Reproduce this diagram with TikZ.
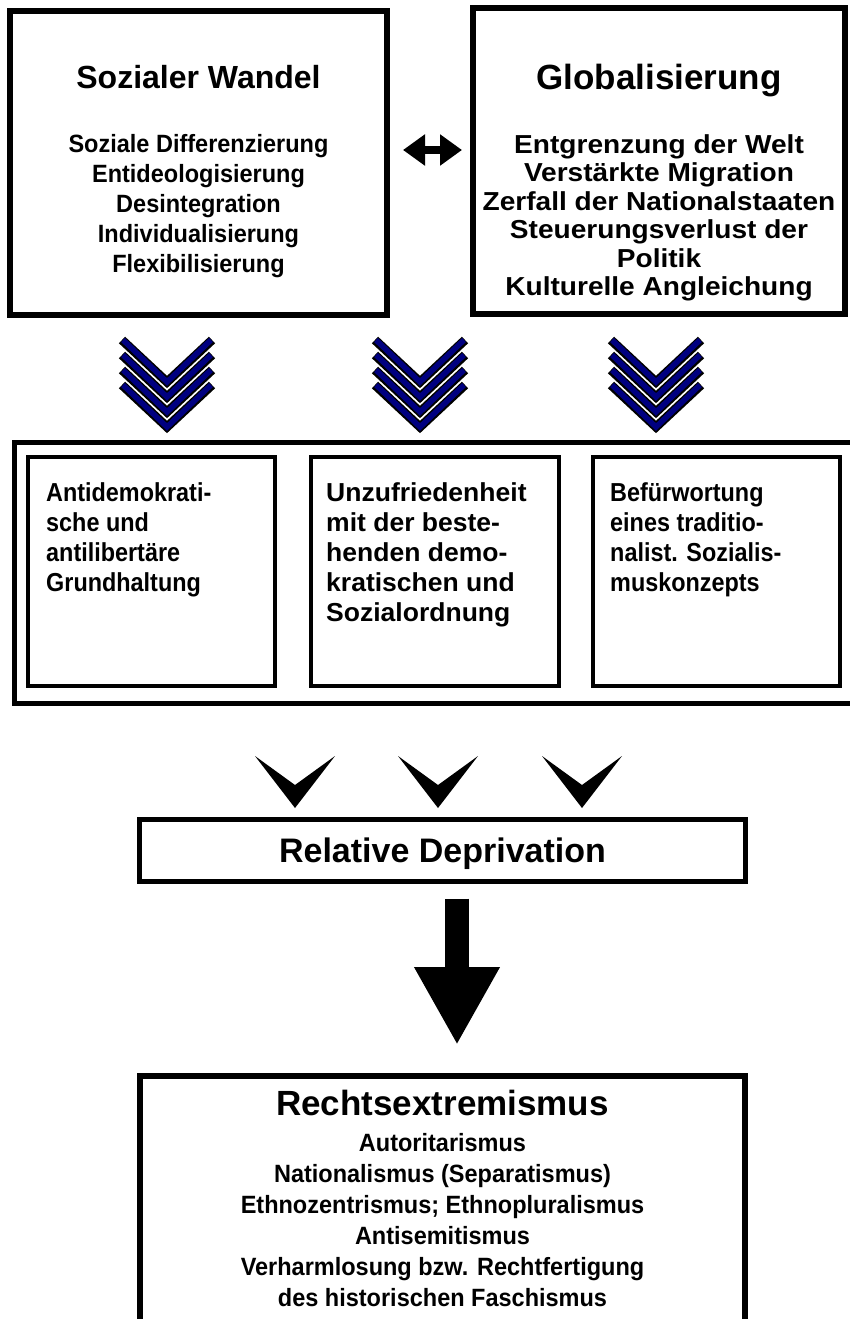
\documentclass[tikz,border=0pt]{standalone}
\usepackage{fontspec}
\setmainfont{Liberation Sans}
\newfontfamily\narrowsans[FakeStretch=0.9]{Liberation Sans}
\newfontfamily\leftsans[FakeStretch=0.94]{Liberation Sans}
\newfontfamily\widesans[FakeStretch=1.02]{Liberation Sans}
\newfontfamily\rightsans[FakeStretch=1.08]{Liberation Sans}
\usetikzlibrary{arrows.meta, positioning}
\definecolor{chevblue}{RGB}{0,0,128}

\tikzset{
  bigbox/.style={rectangle, draw, line width=6pt, inner sep=0pt},
  subbox/.style={rectangle, draw, line width=4pt, inner sep=0pt, minimum width=247pt, minimum height=229pt},
  titletext/.style={font=\fontsize{32}{36}\selectfont\bfseries, inner sep=0pt, anchor=base},
  listtext/.style={font=\fontsize{25}{30}\selectfont\bfseries, align=center, inner sep=0pt, anchor=north},
  subtext/.style={font=\fontsize{26}{30}\selectfont\bfseries, align=left, inner sep=0pt, anchor=north west},
  dblarrow/.style={line width=8pt, {Triangle[length=22pt,width=30pt]}-{Triangle[length=22pt,width=30pt]}},
  downarrow/.style={line width=24pt, -{Triangle[length=78pt,width=80pt]}},
}

\begin{document}
\begin{tikzpicture}[x=1pt, y=-1pt]
    \useasboundingbox (0,0) rectangle (850,1319);
    \clip (0,0) rectangle (850,1319);

    % top boxes
    \node (wandel) [bigbox, minimum width=377pt, minimum height=304pt] at (198.5,163) {};
    \node (global) [bigbox, minimum width=372pt, minimum height=306pt] at (659,161) {};
    \node (wandeltitle) [titletext] at (198.5,89) {Sozialer Wandel};
    \node (wandellist) [listtext] at (198.5,134) {\leftsans Soziale Differenzierung\\\leftsans Entideologisierung\\\leftsans Desintegration\\\leftsans Individualisierung\\\leftsans Flexibilisierung};
    \node (globaltitle) [titletext, font=\fontsize{35}{40}\selectfont\bfseries] at (659,90) {Globalisierung};
    \node (globallist) [listtext, font=\fontsize{26}{28.5}\selectfont\bfseries] at (659,134) {\rightsans Entgrenzung der Welt\\\rightsans Verstärkte Migration\\\rightsans Zerfall der Nationalstaaten\\\rightsans Steuerungsverlust der\\\rightsans Politik\\\rightsans Kulturelle Angleichung};

    \draw[dblarrow, shorten <=13pt, shorten >=8pt] ([yshift=13pt]wandel.east) -- ([yshift=11pt]global.west);

    % blue chevrons
    \foreach \cx in {167,420,656} {
        \foreach \k in {0,...,3} {
            \draw[line width=9pt, black] ({\cx-45},{340+15*\k}) -- (\cx,{382+15*\k}) -- ({\cx+45},{340+15*\k});
            \draw[line width=5.5pt, chevblue] ({\cx-44},{340+15*\k}) -- (\cx,{382+15*\k}) -- ({\cx+44},{340+15*\k});
        }
    }

    % frame with three attitudes
    \node (frame) [rectangle, draw, line width=5pt, minimum width=860pt, minimum height=261pt] at (444.5,573) {};
    \node (antidem) [subbox] at (151.5,571.5) {};
    \node (unzufr) [subbox, minimum width=248pt] at (435,571.5) {};
    \node (befuerw) [subbox] at (716.5,571.5) {};
    \node (antidemtext) [subtext] at (46,482) {\narrowsans Antidemokrati-\\\narrowsans sche und\\\narrowsans antilibertäre\\\narrowsans Grundhaltung};
    \node (unzufrtext) [subtext] at (326,482) {\widesans Unzufriedenheit\\\widesans mit der beste-\\\widesans henden demo-\\\widesans kratischen und\\\widesans Sozialordnung};
    \node (befuerwtext) [subtext] at (610,482) {\narrowsans Befürwortung\\\narrowsans eines traditio-\\\narrowsans nalist. Sozialis-\\\narrowsans muskonzepts};

    % black chevrons
    \foreach \cx in {295,438,582} {
        \fill ({\cx-40},756) -- (\cx,808) -- ({\cx+40},756) -- (\cx,785) -- cycle;
    }

    % relative deprivation
    \node (deprivation) [rectangle, draw, line width=5pt, minimum width=606pt, minimum height=62pt] at (442.5,850) {};
    \node (deprivationtext) [titletext, font=\fontsize{34}{38}\selectfont\bfseries] at (442.5,862) {Relative Deprivation};

    % right-wing extremism
    \node (rechts) [bigbox, minimum width=605pt, minimum height=254pt] at (442.5,1203) {};
    \node (rechtstitle) [titletext, font=\fontsize{35}{40}\selectfont\bfseries] at (442.5,1115.5) {Rechtsextremismus};
    \node (rechtslist) [listtext, font=\fontsize{25}{31}\selectfont\bfseries] at (442.5,1133) {\leftsans Autoritarismus\\\leftsans Nationalismus (Separatismus)\\\leftsans Ethnozentrismus; Ethnopluralismus\\\leftsans Antisemitismus\\\leftsans Verharmlosung bzw. Rechtfertigung\\\leftsans des historischen Faschismus};

    \draw[downarrow, shorten <=15pt, shorten >=28pt] ([xshift=14.5pt]deprivation.south) -- ([xshift=14.5pt]deprivation.south |- rechts.north);
\end{tikzpicture}
\end{document}
